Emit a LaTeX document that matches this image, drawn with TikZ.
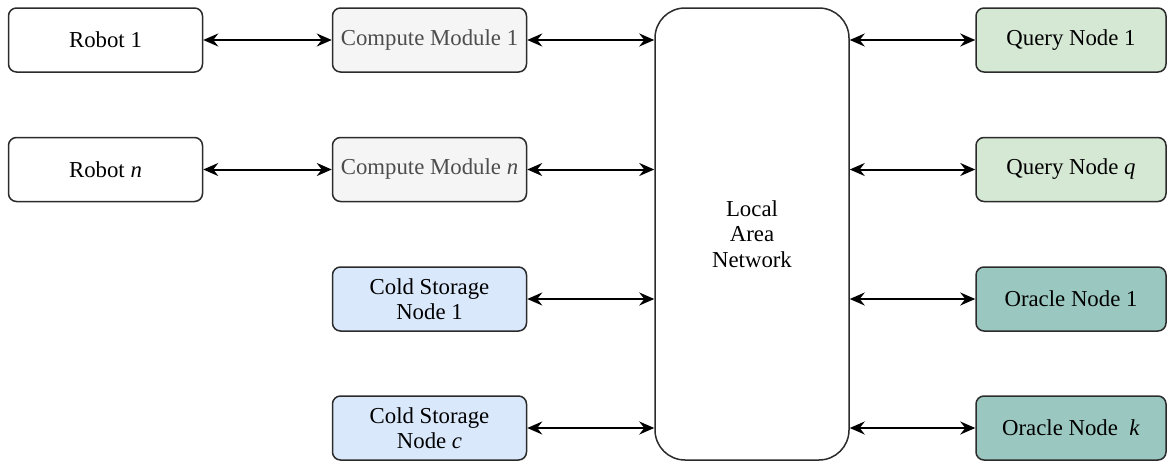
\documentclass[tikz,border=0pt]{standalone}
\usepackage{fontspec}
\setmainfont{Liberation Serif}
\usepackage{tikz}
\usetikzlibrary{arrows.meta}

\definecolor{boxline}{HTML}{2B2B2B}
\definecolor{computefill}{HTML}{F5F5F5}
\definecolor{computetext}{HTML}{4D4D4D}
\definecolor{queryfill}{HTML}{D5E8D4}
\definecolor{coldfill}{HTML}{DAE8FC}
\definecolor{oraclefill}{HTML}{9AC7BF}

\begin{document}
\begin{tikzpicture}[x=0.5pt, y=-0.5pt,
    box/.style={draw=boxline, line width=0.75pt, rounded corners=4pt,
        minimum width=97pt, minimum height=32pt, inner sep=1pt, align=center,
        font=\fontsize{11.4}{12.8}\selectfont},
    link/.style={{Stealth[length=7.5pt,width=6.5pt,inset=2.5pt]}-{Stealth[length=7.5pt,width=6.5pt,inset=2.5pt]},
        line width=1pt}]
    \def\robx{105.5}; % robot column x
    \def\cmpx{429.5}; % compute / cold storage column x
    \def\lanx{752}; % network column x
    \def\qryx{1071}; % query / oracle column x

    \def\rowa{40}; % first row y
    \def\rowb{169.5}; % second row y
    \def\rowc{299}; % third row y
    \def\rowd{428}; % fourth row y

    \useasboundingbox (0,0) rectangle (1168,461);

    % robots %%%%%%%%%%%%%%%%%%%%%%%%%%%%%%%%%%%%%%%%%%%%%%%%%%%%%%%%%%%%%%%%%%%%%%%%%%%%%%%%%%%%%
    \node[box, fill=white] (rob1) at (\robx, \rowa) {Robot 1};
    \node[box, fill=white] (robn) at (\robx, \rowb) {Robot \textit{n}};

    % compute modules and cold storage %%%%%%%%%%%%%%%%%%%%%%%%%%%%%%%%%%%%%%%%%%%%%%%%%%%%%%%%%%%%
    \node[box, fill=computefill, text=computetext] (cmp1) at (\cmpx, \rowa) {Compute Module 1};
    \node[box, fill=computefill, text=computetext] (cmpn) at (\cmpx, \rowb) {Compute Module \textit{n}};
    \node[box, fill=coldfill] (cold1) at (\cmpx, \rowc) {Cold Storage\\Node 1};
    \node[box, fill=coldfill] (coldc) at (\cmpx, \rowd) {Cold Storage\\Node \textit{c}};

    % network %%%%%%%%%%%%%%%%%%%%%%%%%%%%%%%%%%%%%%%%%%%%%%%%%%%%%%%%%%%%%%%%%%%%%%%%%%%%%%%%%%%%%
    \node[box, fill=white, rounded corners=15pt, minimum height=226pt] (lan) at (\lanx, 234)
        {Local\\Area\\Network};

    % query and oracle nodes %%%%%%%%%%%%%%%%%%%%%%%%%%%%%%%%%%%%%%%%%%%%%%%%%%%%%%%%%%%%%%%%%%%%%%
    \node[box, fill=queryfill, minimum width=95pt] (qry1) at (\qryx, \rowa) {Query Node 1};
    \node[box, fill=queryfill, minimum width=95pt] (qryq) at (\qryx, \rowb) {Query Node \textit{q}};
    \node[box, fill=oraclefill, minimum width=95pt] (orc1) at (\qryx, \rowc) {Oracle Node 1};
    \node[box, fill=oraclefill, minimum width=95pt] (orck) at (\qryx, \rowd) {Oracle Node~~\textit{k}};

    % arrows %%%%%%%%%%%%%%%%%%%%%%%%%%%%%%%%%%%%%%%%%%%%%%%%%%%%%%%%%%%%%%%%%%%%%%%%%%%%%%%%%%%%%%
    \draw[link] (rob1) -- (cmp1);
    \draw[link] (robn) -- (cmpn);
    \foreach \n in {cmp1, cmpn, cold1, coldc}{
        \draw[link] (\n.east) -- (\n.east -| lan.west);
    }
    \foreach \n in {qry1, qryq, orc1, orck}{
        \draw[link] (\n.west -| lan.east) -- (\n.west);
    }
\end{tikzpicture}
\end{document}
